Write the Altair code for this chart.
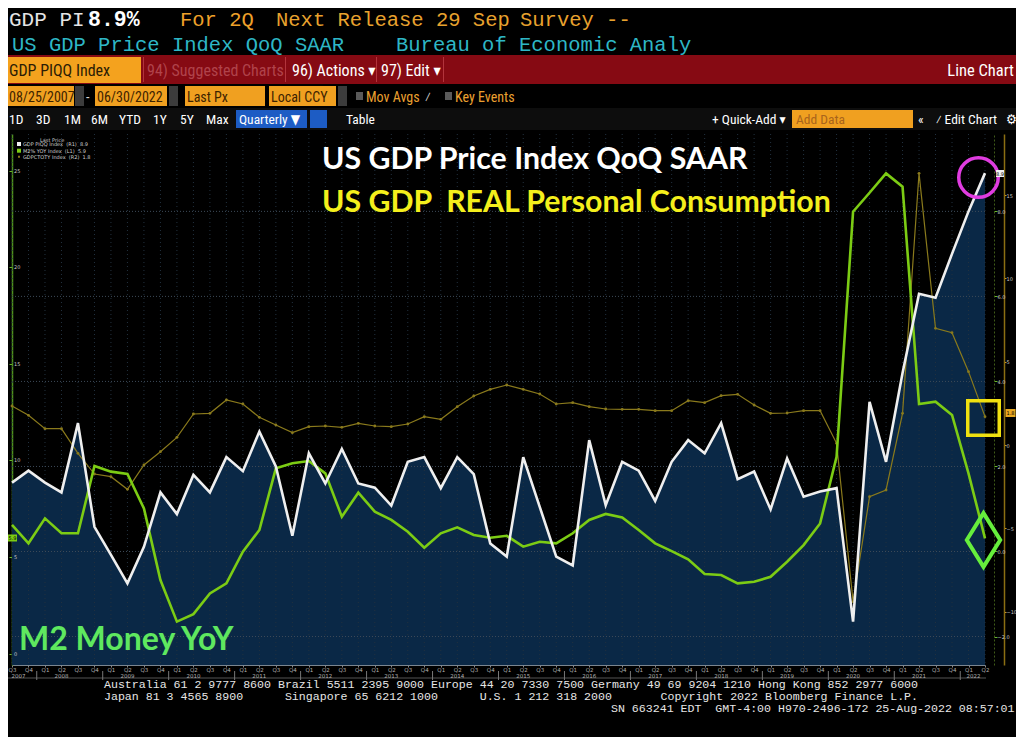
import altair as alt
import pandas as pd

# ---------------- data (quarterly, 2007Q3 .. 2022Q2) ----------------
years = list(range(2007, 2023))
all_q = [f"{y}Q{q}" for y in years for q in (1, 2, 3, 4)]
quarters = all_q[all_q.index("2007Q3"):all_q.index("2022Q2") + 1]

# US GDP Price Index QoQ SAAR (white, inner right axis)
gdp_price_qoq = [1.62, 1.90, 1.62, 1.39, 3.02, 0.58, -0.08, -0.75, 0.11, 1.39,
                 0.88, 1.80, 1.39, 2.22, 1.89, 2.82, 2.00, 0.37, 2.31, 1.60,
                 2.41, 1.60, 1.50, 1.08, 2.11, 2.22, 1.49, 2.22, 1.82, 0.19,
                 -0.12, 2.22, 1.05, -0.12, -0.33, 2.62, 1.09, 2.11, 1.90, 1.19,
                 2.11, 2.62, 2.31, 3.02, 1.70, 1.88, 0.99, 2.19, 1.29, 1.41,
                 1.49, -1.65, 3.52, 2.11, 4.20, 6.06, 5.97, 7.00, 8.00, 8.90]
# M2 Money YoY (green, left axis)
m2_yoy = [6.66, 5.71, 7.00, 6.23, 6.23, 9.71, 9.42, 9.30, 7.52, 3.81,
          1.66, 2.05, 3.12, 3.64, 5.28, 6.40, 9.59, 9.85, 9.97, 9.33,
          7.09, 8.33, 7.35, 6.92, 6.31, 5.48, 6.23, 6.54, 6.14, 6.00,
          6.10, 5.54, 5.79, 5.71, 6.23, 6.92, 7.23, 7.05, 6.40, 5.71,
          5.31, 4.88, 4.12, 4.07, 3.64, 3.72, 3.98, 4.76, 5.62, 6.74,
          10.19, 22.87, 23.85, 24.85, 24.16, 12.92, 13.04, 12.35, 9.33, 5.97]
# US real personal consumption YoY (olive, outer right axis)
pce_real_yoy = [2.34, 1.78, 0.98, 0.98, -0.50, -1.74, -1.90, -2.66, -1.20, -0.40,
                0.46, 1.86, 1.90, 2.70, 2.46, 1.66, 1.20, 0.74, 1.10, 1.14,
                1.06, 1.30, 1.14, 1.10, 1.26, 1.70, 1.54, 2.30, 2.94, 3.34,
                3.60, 3.34, 3.06, 2.46, 2.54, 2.30, 2.16, 2.14, 2.14, 2.06,
                2.06, 2.66, 2.54, 2.96, 3.04, 2.40, 1.90, 1.92, 2.06, 2.06,
                0.10, -9.40, -3.10, -2.70, 1.90, 16.30, 7.00, 6.74, 4.40, 1.70]

pi_ticks = [-2, 0, 2, 4, 6, 8]
m2_ticks = [0, 5, 10, 15, 20, 25]
pce_ticks = [-10, -5, 0, 5, 10, 15]

df = pd.DataFrame({"i": list(range(len(quarters))), "q": quarters,
                   "pi": gdp_price_qoq, "m2": m2_yoy, "pce": pce_real_yoy})

year_pos = []
for y in years:
    if f"{y}Q2" in quarters:
        year_pos.append(min(quarters.index(f"{y}Q2"), 58.3))
    else:
        year_pos.append(0.4)
years_df = pd.DataFrame({"year": [str(y) for y in years], "pos": year_pos})
sep_df = pd.DataFrame({"pos": [quarters.index(f"{y}Q1") - 0.5 for y in years[1:]]})

# ---------------- layout ----------------
W, H = 973, 531
OX, OY = 12, 134          # page position of the plot's top-left corner
MONO = "Liberation Mono"
NARROW = "Liberation Sans Narrow, Roboto Condensed, DejaVu Sans Condensed, sans-serif"
SMALL = "DejaVu Sans"

xs = alt.Scale(domain=[0, len(quarters) - 1], nice=False, zero=False)
pi_scale = alt.Scale(domain=[-2.67, 9.82], nice=False, zero=False)
m2_scale = alt.Scale(domain=[-0.585, 26.89], nice=False, zero=False)
pce_scale = alt.Scale(domain=[-13.2, 18.66], nice=False, zero=False)


def text_layer(rows, font, size, weight="normal", align="left", baseline="alphabetic"):
    d = pd.DataFrame([{"x": X - OX, "y": Y - OY, "t": t, "c": c} for X, Y, t, c in rows])
    return alt.Chart(d).mark_text(font=font, fontSize=size, fontWeight=weight,
                                  align=align, baseline=baseline).encode(
        x=alt.X("x:Q", scale=None, axis=None),
        y=alt.Y("y:Q", scale=None, axis=None),
        text="t:N",
        color=alt.Color("c:N", scale=None, legend=None),
    )


def rect_layer(rows):
    d = pd.DataFrame([{"x": a - OX, "x2": b - OX, "y": c - OY, "y2": e - OY, "c": col}
                      for a, b, c, e, col in rows])
    return alt.Chart(d).mark_rect().encode(
        x=alt.X("x:Q", scale=None, axis=None), x2="x2:Q",
        y=alt.Y("y:Q", scale=None, axis=None), y2="y2:Q",
        color=alt.Color("c:N", scale=None, legend=None),
    )


ORANGE = "#f0a020"
ui_rects = rect_layer([
    (0, 1024, 55, 84, "#860a13"),
    (143, 144, 57, 82, "#b2343c"), (285, 286, 57, 82, "#b2343c"),
    (376, 377, 57, 82, "#b2343c"), (443, 444, 57, 82, "#b2343c"),
    (1, 141, 57, 83, "#f4a21e"),
    (2, 74, 86, 106, ORANGE), (75, 84, 86, 106, "#3c3c3c"),
    (95, 167, 86, 106, ORANGE), (169, 178, 86, 106, "#3c3c3c"),
    (185, 265, 86, 106, ORANGE), (269, 336, 86, 106, ORANGE),
    (338, 347, 86, 106, "#3c3c3c"),
    (356, 363, 92, 100, "#5a5a5a"), (445, 452, 92, 100, "#5a5a5a"),
    (0, 1024, 108, 130, "#0d0d0d"),
    (236, 307, 110, 128, "#1d5cc4"), (310, 327, 110, 128, "#1d5cc4"),
    (792, 913, 110, 128, ORANGE),
    (0, 986, 677.5, 678.5, "#555555"),
])

label_boxes = rect_layer([
    (17, 21, 142, 146, "#f0f0f0"), (17, 21, 148.7, 152.7, "#7ccc14"),
    (18, 20, 155.7, 157.7, "#8a7a1c"),
    (8, 17, 534.5, 541.5, "#7ccc14"),
    (996, 1004, 170, 177, "#f0f0f0"),
    (1005.5, 1015.5, 409, 417, "#e8a820"),
])

x_axis = alt.Axis(values=list(range(len(quarters))),
                  labelExpr="'Q' + ((datum.value + 2) % 4 + 1)",
                  labelFontSize=5.5, labelColor="#b0b0b0", labelFont=SMALL,
                  tickColor="#8a8a8a", tickSize=2, domainColor="#7a8590",
                  labelPadding=0, grid=False, title=None, labelAngle=0,
                  labelOverlap=False, labelFlush=False)
m2_axis = alt.Axis(orient="left", values=m2_ticks, labels=False,
                   tickColor="#6ab82a", tickSize=3,
                   domainColor="#4e8f1e", domainWidth=1.5,
                   title=None, grid=False)
pi_axis = alt.Axis(orient="right", offset=9, values=pi_ticks, format=".1f",
                   labelFontSize=5, labelFont=SMALL, labelColor="#c8c8c8",
                   tickColor="#6ab82a", tickSize=3, domainColor="#3f5a18",
                   domainDash=[2, 2], labelPadding=0, title=None, grid=False,
                   labelFlush=False)
pce_axis = alt.Axis(orient="right", offset=19, values=pce_ticks,
                    labelFontSize=5, labelFont=SMALL, labelColor="#c8c8c8",
                    tickColor="#e0a020", tickSize=2, domainColor="#8a6e12",
                    domainWidth=1.5, labelPadding=0, title=None, grid=False,
                    labelFlush=False)

base = alt.Chart(df)
area = base.mark_area(color="#0a2846", opacity=1).encode(
    x=alt.X("i:Q", scale=xs, axis=x_axis),
    y=alt.Y("pi:Q", scale=pi_scale, axis=None, stack=None),
    y2=alt.value(H),
)
vgrid = alt.Chart(pd.DataFrame({"i": list(range(len(quarters)))})).mark_rule(
    color="#22313f", strokeDash=[1, 3], strokeWidth=1).encode(
    x=alt.X("i:Q", scale=xs, axis=None), y=alt.value(0), y2=alt.value(H))
hgrid = alt.Chart(pd.DataFrame({"v": pi_ticks})).mark_rule(
    color="#3d4a58", strokeDash=[1, 2], strokeWidth=1).encode(
    y=alt.Y("v:Q", scale=pi_scale, axis=None), x=alt.value(0), x2=alt.value(W))

m2_labels = alt.Chart(pd.DataFrame({"v": m2_ticks})).mark_text(
    font=SMALL, fontSize=5, color="#c8c8c8", align="left", baseline="middle").encode(
    y=alt.Y("v:Q", scale=m2_scale, axis=None), x=alt.value(2), text="v:Q")

year_text = alt.Chart(years_df).mark_text(font=SMALL, fontSize=5.5, color="#b0b0b0",
                                          baseline="middle").encode(
    x=alt.X("pos:Q", scale=xs, axis=None), y=alt.value(541.5), text="year:N")
year_sep = alt.Chart(sep_df).mark_rule(color="#777777", strokeWidth=1).encode(
    x=alt.X("pos:Q", scale=xs, axis=None), y=alt.value(537), y2=alt.value(546))

pce_line = base.mark_line(color="#8a7a1c", strokeWidth=1.2,
                          point=alt.OverlayMarkDef(color="#8a7a1c", size=8, filled=True)).encode(
    x=alt.X("i:Q", scale=xs, axis=None),
    y=alt.Y("pce:Q", scale=pce_scale, axis=pce_axis))
m2_line = base.mark_line(color="#7ccc14", strokeWidth=2.6).encode(
    x=alt.X("i:Q", scale=xs, axis=None),
    y=alt.Y("m2:Q", scale=m2_scale, axis=m2_axis))
pi_line = base.mark_line(color="#efefef", strokeWidth=2.6).encode(
    x=alt.X("i:Q", scale=xs, axis=None),
    y=alt.Y("pi:Q", scale=pi_scale, axis=pi_axis))

one = pd.DataFrame({"a": [0]})
circle = alt.Chart(one).mark_point(shape="circle", size=1560, filled=False,
                                   color="#e03ce0", strokeWidth=3.5, opacity=1).encode(
    x=alt.value(978.5 - OX), y=alt.value(177.5 - OY))
square = alt.Chart(one).mark_rect(fill="transparent", stroke="#f0e010", strokeWidth=3.5).encode(
    x=alt.value(967.75 - OX), x2=alt.value(999.25 - OX),
    y=alt.value(400.75 - OY), y2=alt.value(435.25 - OY))
diamond = alt.Chart(one).mark_point(shape="M-0.62,0L0,-1L0.62,0L0,1Z", size=2900,
                                    filled=False, color="#66ee3c", strokeWidth=4,
                                    opacity=1).encode(
    x=alt.value(983.5 - OX), y=alt.value(540 - OY))

# ---------------- texts ----------------
hdr0 = text_layer([(9, 26, "GDP PI", "#e4e4e4")], MONO, 21)
hdr = text_layer([(180, 26, "For 2Q", "#eea12a"),
                  (276, 26, "Next Release 29 Sep", "#e8a22e"),
                  (520, 26, "Survey --", "#e8a22e")], MONO, 20.5)
hdr2 = text_layer([(12, 51, "US GDP Price Index QoQ SAAR", "#2eb7c6"),
                   (396, 51, "Bureau of Economic Analy", "#2eb7c6")], MONO, 20.5)
hdr_b = text_layer([(88, 26, "8.9%", "#ffffff")], MONO, 21.5, weight="bold")
bar_t = text_layer([(9, 76, "GDP PIQQ Index", "#2b1c05"),
                    (147, 76, "94) Suggested Charts", "#b0434b"),
                    (292, 76, "96) Actions ▾", "#ffffff"),
                    (381, 76, "97) Edit ▾", "#ffffff")], NARROW, 16)
bar_r = text_layer([(1014, 76, "Line Chart", "#ffffff")], NARROW, 16.5, align="right")
row3 = text_layer([(9, 102, "08/25/2007", "#3d2300"), (86, 102, "-", "#dddddd"),
                   (97, 102, "06/30/2022", "#3d2300"), (187, 102, "Last Px", "#3d2300"),
                   (271, 102, "Local CCY", "#3d2300"), (366, 102, "Mov Avgs", "#eba030"),
                   (425, 102, "⁄", "#cccccc"), (455, 102, "Key Events", "#eba030")],
                  NARROW, 14)
row4 = text_layer([(9, 124, "1D", "#ffffff"), (36, 124, "3D", "#ffffff"),
                   (64, 124, "1M", "#ffffff"), (91, 124, "6M", "#ffffff"),
                   (119, 124, "YTD", "#ffffff"), (153, 124, "1Y", "#ffffff"),
                   (180, 124, "5Y", "#ffffff"), (206, 124, "Max", "#ffffff"),
                   (239, 124, "Quarterly ▼", "#ffffff"), (346, 124, "Table", "#ffffff"),
                   (712, 124, "+ Quick-Add ▾", "#ffffff"), (796, 124, "Add Data", "#a8641c"),
                   (918, 124, "«", "#ffffff"), (936, 124, "⁄ Edit Chart", "#ffffff"),
                   (1006, 124, "⚙", "#ffffff")], NARROW, 13.5)

notes = text_layer([(322, 169, "US GDP Price Index QoQ SAAR", "#ffffff"),
                    (322, 212, "US GDP\u00a0 REAL Personal Consumption", "#f4ef1c")],
                   "Lato", 30.3, weight="bold")
m2_note = text_layer([(19, 650, "M2 Money YoY", "#5fe85f")], "Lato", 32, weight="bold")

legend_t = text_layer([(40, 139.5, "Last Price", "#cfcfcf"),
                       (23, 144, "GDP PIQQ Index\u00a0 (R1)\u00a0 8.9", "#cfcfcf"),
                       (23, 150.7, "M2% YOY Index\u00a0 (L1)\u00a0 5.9", "#cfcfcf"),
                       (23, 156.7, "GDPCTOTY Index\u00a0 (R2)\u00a0 1.8", "#cfcfcf")],
                      SMALL, 5, baseline="middle")
box_t = text_layer([(12.5, 538, "5.9", "#000000"), (1000, 173.5, "8.9", "#000000"),
                    (1010.5, 413, "1.8", "#000000")], SMALL, 5, align="center",
                   baseline="middle")

sp = "\u00a0"
footer = text_layer([
    (104, 688, "Australia 61 2 9777 8600 Brazil 5511 2395 9000 Europe 44 20 7330 7500 "
               "Germany 49 69 9204 1210 Hong Kong 852 2977 6000".replace(" ", sp), "#e6e6e6"),
    (104, 700, ("Japan 81 3 4565 8900      Singapore 65 6212 1000      U.S. 1 212 318 2000"
                "       Copyright 2022 Bloomberg Finance L.P.").replace(" ", sp), "#e6e6e6"),
    (611, 712, "SN 663241 EDT  GMT-4:00 H970-2496-172 25-Aug-2022 08:57:01".replace(" ", sp),
     "#e6e6e6"),
], MONO, 11.6)

chart = alt.layer(
    ui_rects, area, vgrid, hgrid, year_sep, year_text,
    pce_line, m2_line, pi_line, m2_labels,
    notes, m2_note, circle, square, diamond,
    label_boxes, legend_t, box_t,
    hdr0, hdr, hdr2, hdr_b, bar_t, bar_r, row3, row4, footer,
).resolve_scale(x="independent", y="independent").properties(
    width=W, height=H,
    autosize=alt.AutoSizeParams(type="none"),
    padding={"left": 4, "top": 126, "right": 31, "bottom": 72},
).configure(background="#000000").configure_view(strokeWidth=0, fill="#000000")

chart.save("out.html", embed_options={"renderer": "svg", "actions": False})
